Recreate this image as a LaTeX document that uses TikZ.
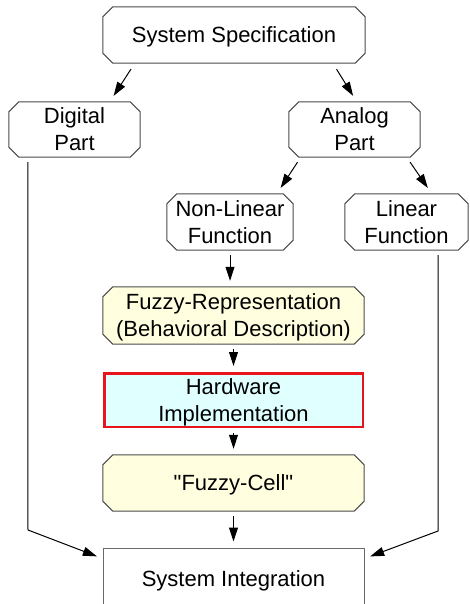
\documentclass[tikz,border=0pt]{standalone}
\usepackage{fontspec}
\setmainfont{Liberation Sans}
% same face without TeX ligatures, so that " stays a straight quote
\newfontfamily\plainquotes{Liberation Sans}
\usetikzlibrary{arrows.meta,backgrounds}

\definecolor{boxline}{HTML}{4A4A4A}
\definecolor{intline}{HTML}{6A6A6A}
\definecolor{fuzzyfill}{HTML}{FFFFE0}
\definecolor{hwfill}{HTML}{E0FFFF}
\definecolor{hwline}{HTML}{E8141B}

\tikzset{
  lbl/.style={shape=rectangle, inner sep=0pt, align=center, text depth=0pt,
              font=\fontsize{22}{27}\selectfont},
  arr/.style={draw=black, line width=1pt,
              -{Triangle[length=14pt,width=9pt]},
              shorten <=5pt, shorten >=6pt},
  octline/.style={draw=boxline, line width=1pt},
}

% octagonal outline (cut corners) around a named node
\newcommand\octbox[2]{%
  \path[octline, fill=#2]
    ([xshift=10pt]#1.north west) -- ([xshift=-10pt]#1.north east)
    -- ([yshift=-10pt]#1.north east) -- ([yshift=10pt]#1.south east)
    -- ([xshift=-10pt]#1.south east) -- ([xshift=10pt]#1.south west)
    -- ([yshift=10pt]#1.south west) -- ([yshift=-10pt]#1.north west)
    -- cycle;}

\begin{document}
\begin{tikzpicture}[x=1pt, y=-1pt]
  \clip (0,0) rectangle (470,604);

  % blocks
  \node[lbl, minimum width=262pt, minimum height=56pt] (spec) at (234,35) {System Specification};
  \node[lbl, minimum width=131pt, minimum height=55pt] (digital) at (74.5,129.5) {Digital\\Part};
  \node[lbl, minimum width=131pt, minimum height=55pt] (analog) at (354.5,129.5) {Analog\\Part};
  \node[lbl, minimum width=126pt, minimum height=56pt] (nonlin) at (230,222) {Non-Linear\\Function};
  \node[lbl, minimum width=123pt, minimum height=56pt] (lin) at (406.5,222) {Linear\\Function};
  \node[lbl, minimum width=261pt, minimum height=57pt] (fuzrep) at (233.5,315.5) {Fuzzy-Representation\\(Behavioral Description)};
  \node[lbl, draw=hwline, line width=2.5pt, fill=hwfill,
        minimum width=258.5pt, minimum height=53.5pt] (hw) at (233.5,400) {Hardware\\Implementation};
  \node[lbl, minimum width=261pt, minimum height=56pt] (fuzcell) at (233.5,483) {\plainquotes "Fuzzy-Cell"};
  \node[lbl, draw=intline, line width=1pt, fill=white,
        minimum width=261pt, minimum height=62pt] (sysint) at (233.5,579) {System Integration};

  \begin{pgfonlayer}{background}
    \octbox{spec}{white}
    \octbox{digital}{white}
    \octbox{analog}{white}
    \octbox{nonlin}{white}
    \octbox{lin}{white}
    \octbox{fuzrep}{fuzzyfill}
    \octbox{fuzcell}{fuzzyfill}
  \end{pgfonlayer}

  % bend points of the two long side paths
  \coordinate (lbend) at (28,530);
  \coordinate (rbend) at (438,531);

  % connectors
  \draw[arr, shorten <=7pt, shorten >=7pt] ([xshift=32pt]spec.south west) -- ([xshift=101pt]digital.north west);
  \draw[arr, shorten <=7pt, shorten >=7pt] ([xshift=230pt]spec.south west) -- ([xshift=68pt]analog.north west);
  \draw[arr, shorten <=6pt, shorten >=7pt] ([xshift=12pt]analog.south west) -- ([xshift=110pt]nonlin.north west);
  \draw[arr, shorten <=6pt, shorten >=7pt] ([xshift=-13.5pt]analog.south east) -- ([xshift=87pt]lin.north west);
  \draw[arr] (nonlin.south) -- (nonlin.south |- fuzrep.north);
  \draw[arr] (fuzrep.south) -- (hw.north);
  \draw[arr] (hw.south) -- (fuzcell.north);
  \draw[arr] (fuzcell.south) -- (sysint.north);
  \draw[arr] ([xshift=19pt]digital.south west) -- (lbend) -- ([yshift=-11pt]sysint.north west);
  \draw[arr] ([xshift=-30pt]lin.south east) -- (rbend) -- ([yshift=-11pt]sysint.north east);
\end{tikzpicture}
\end{document}
